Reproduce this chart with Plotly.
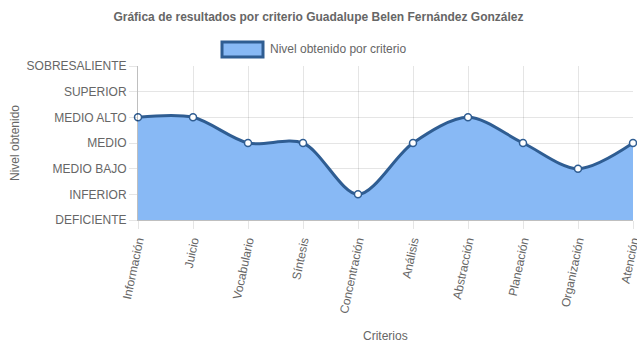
import plotly.graph_objects as go

# Criteria evaluated and the level obtained on each (index into niveles)
criterios = ["Información", "Juicio", "Vocabulario", "Síntesis", "Concentración",
             "Análisis", "Abstracción", "Planeación", "Organización", "Atención"]
valores = [4, 4, 3, 3, 1, 3, 4, 3, 2, 3]
niveles = ["DEFICIENTE", "INFERIOR", "MEDIO BAJO", "MEDIO", "MEDIO ALTO",
           "SUPERIOR", "SOBRESALIENTE"]

W, H = 637, 348
L, R, T, B = 138, 4, 66, 128
pw, ph = W - L - R, H - T - B

FILL = "rgba(136,185,245,1)"
LINE = "#2f5d92"
GRAY = "#666666"
FONT = "Liberation Sans, Arial, sans-serif"

fig = go.Figure()
fig.add_trace(go.Scatter(
    x=list(range(len(criterios))), y=valores,
    mode="lines+markers",
    line=dict(color=LINE, width=3, shape="spline", smoothing=0.9),
    fill="tozeroy", fillcolor=FILL,
    marker=dict(size=7, color="white", line=dict(color=LINE, width=1.5)),
    showlegend=False, hoverinfo="skip", cliponaxis=False,
))

def px(x):
    return (x - L) / pw

def py(y):
    return (H - B - y) / ph

# Legend box and label
fig.add_shape(type="rect", xref="paper", yref="paper",
              x0=px(222), x1=px(263), y0=py(57), y1=py(42),
              fillcolor=FILL, line=dict(color=LINE, width=3))
fig.add_annotation(xref="paper", yref="paper", x=px(268), y=py(49.5),
                   xanchor="left", yanchor="middle", showarrow=False,
                   text="Nivel obtenido por criterio",
                   font=dict(family=FONT, size=12, color=GRAY))

# X axis title
fig.add_annotation(xref="paper", yref="paper", x=px(385), y=py(336),
                   xanchor="center", yanchor="middle", showarrow=False,
                   text="Criterios",
                   font=dict(family=FONT, size=12, color=GRAY))

grid = "rgba(0,0,0,0.1)"
fig.update_layout(
    width=W, height=H,
    margin=dict(l=L, r=R, t=T, b=B),
    paper_bgcolor="white", plot_bgcolor="white",
    font=dict(family=FONT, size=12, color=GRAY),
    title=dict(text="<b>Gráfica de resultados por criterio Guadalupe Belen Fernández González</b>",
               x=0.5, xanchor="center", xref="container",
               y=1 - 17 / H, yanchor="middle", yref="container",
               font=dict(family=FONT, size=12, color=GRAY)),
    xaxis=dict(
        range=[0, len(criterios) - 1], automargin=False,
        tickmode="array", tickvals=list(range(len(criterios))), ticktext=criterios,
        tickangle=-78, tickfont=dict(size=12, color=GRAY),
        ticklabeloverflow="allow",
        ticks="outside", ticklen=8, tickcolor=grid,
        showgrid=True, gridcolor=grid, gridwidth=1,
        showline=True, linecolor="rgba(0,0,0,0.25)", linewidth=1,
        zeroline=False,
    ),
    yaxis=dict(
        range=[0, 6], automargin=False,
        tickmode="array", tickvals=list(range(len(niveles))), ticktext=niveles,
        tickfont=dict(size=12, color=GRAY),
        ticks="outside", ticklen=8, tickcolor=grid,
        showgrid=True, gridcolor=grid, gridwidth=1,
        showline=True, linecolor="rgba(0,0,0,0.25)", linewidth=1,
        zeroline=False,
        title=dict(text="Nivel obtenido", font=dict(size=12, color=GRAY), standoff=4),
    ),
)

fig.write_html("out.html")
